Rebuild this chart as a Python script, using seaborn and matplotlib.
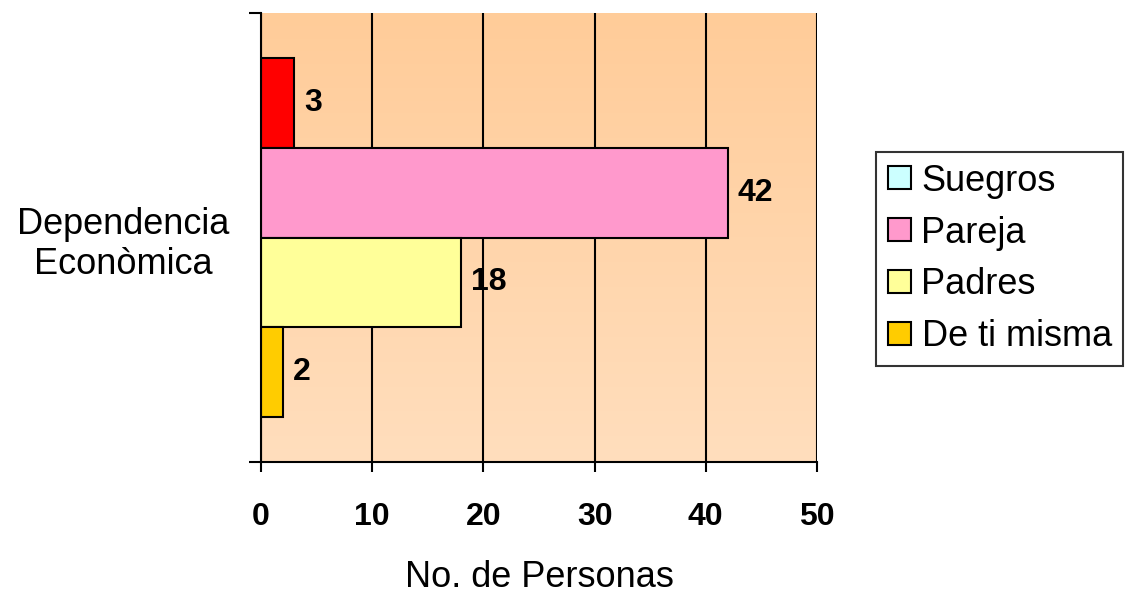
import numpy as np
import pandas as pd
import matplotlib
matplotlib.use("Agg")
import matplotlib.pyplot as plt
from matplotlib.patches import Patch
from matplotlib.colors import to_rgb
import seaborn as sns

# Data
category = "Dependencia\nEconòmica"
fuentes = ["Suegros", "Pareja", "Padres", "De ti misma"]
personas = [3, 42, 18, 2]
bar_colors = ["#FF0000", "#FF99CC", "#FFFF99", "#FFCC00"]
legend_colors = ["#CCFFFF", "#FF99CC", "#FFFF99", "#FFCC00"]
x_ticks = [0, 10, 20, 30, 40, 50]

sns.set_style("white")
plt.rcParams["font.family"] = ["Liberation Sans", "DejaVu Sans"]
for key in ["text.color", "axes.labelcolor", "xtick.color", "ytick.color"]:
    plt.rcParams[key] = "black"

df = pd.DataFrame({"cat": [category] * len(fuentes), "fuente": fuentes, "n": personas})

fig = plt.figure(figsize=(11.26, 5.94), dpi=100)
ax = fig.add_axes([261 / 1126, 1 - 462 / 594, (817 - 261) / 1126, (462 - 13) / 594])

# Soft peach gradient behind the plot
top, bot = np.array(to_rgb("#FFCC99")), np.array(to_rgb("#FFDEBD"))
t = np.linspace(0, 1, 256)[:, None, None]
grad = top * (1 - t) + bot * t
ax.imshow(grad, extent=[0, 1, 0, 1], transform=ax.transAxes, aspect="auto", zorder=0)

sns.barplot(data=df, x="n", y="cat", hue="fuente", hue_order=fuentes,
            palette=bar_colors, saturation=1, orient="h", width=0.8, dodge=True,
            edgecolor="black", linewidth=1.5, legend=False, ax=ax, zorder=2)

for cont in ax.containers:
    ax.bar_label(cont, padding=7, fontsize=23, fontweight="bold", color="black")

ax.set_xlim(0, 50)
ax.set_ylim(0.5, -0.5)
ax.set_xticks(x_ticks)
ax.set_xticklabels([str(v) for v in x_ticks], fontsize=23, fontweight="bold")
ax.xaxis.grid(True, color="black", linewidth=1.5)
ax.set_axisbelow(True)
ax.tick_params(axis="x", direction="out", length=7, width=1.5, color="black",
               pad=22, bottom=True)

ax.set_yticks([0])
ax.set_yticklabels([category], fontsize=26, multialignment="center")
ax.set_yticks([-0.5, 0.5], minor=True)
ax.tick_params(axis="y", which="major", length=0, pad=23)
ax.tick_params(axis="y", which="minor", direction="out", length=9, width=1.5,
               color="black", left=True)

ax.set_xlabel("No. de Personas", fontsize=26, labelpad=20)
ax.set_ylabel("")

for s in ["top", "right"]:
    ax.spines[s].set_visible(False)
for s in ["left", "bottom"]:
    ax.spines[s].set_color("black")
    ax.spines[s].set_linewidth(1.5)

handles = [Patch(facecolor=c, edgecolor="black", linewidth=1.5) for c in legend_colors]
leg = fig.legend(handles, fuentes, loc="upper left",
                 bbox_to_anchor=(876 / 1126, 1 - 152 / 594),
                 fontsize=26, frameon=True, fancybox=False, shadow=False,
                 handlelength=0.66, handleheight=0.6, handletextpad=0.28,
                 labelspacing=0.47, borderpad=0.32, borderaxespad=0)
leg.get_frame().set_edgecolor("black")
leg.get_frame().set_linewidth(1.5)

fig.savefig("out.png", dpi=100)
